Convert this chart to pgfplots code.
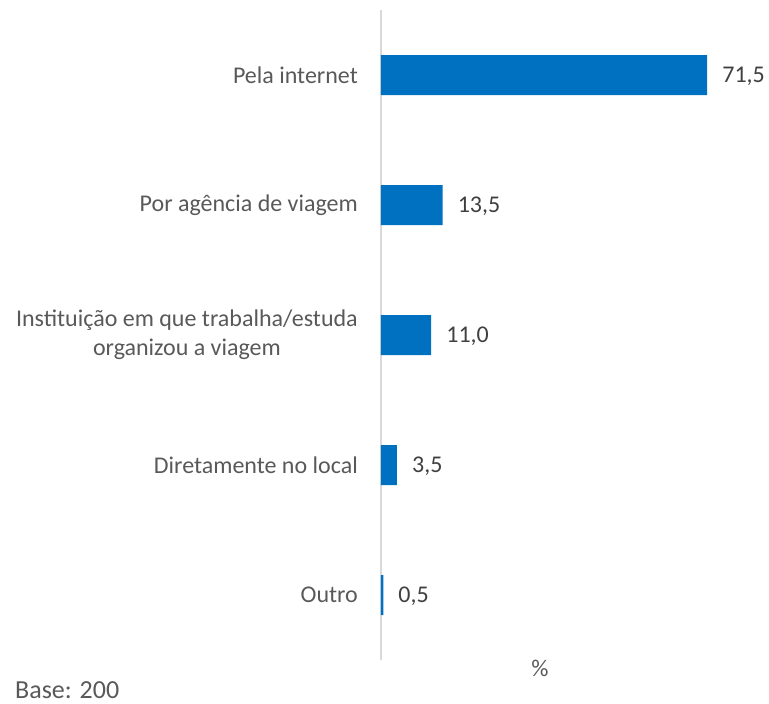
\documentclass[border=0pt]{standalone}
\usepackage{fontspec}
\setmainfont{Carlito}
\usepackage{pgfplots}
\pgfplotsset{compat=1.18}
\definecolor{barblue}{HTML}{0070C0}
\definecolor{txt}{HTML}{595959}
\definecolor{valtxt}{HTML}{404040}
\definecolor{axgray}{HTML}{D9D9D9}
\begin{document}
\begin{tikzpicture}[x=1pt,y=1pt]
\path[use as bounding box] (0,0) rectangle (769,704);
\begin{axis}[
  at={(381pt,44pt)}, anchor=south west, scale only axis,
  width=365pt, height=650pt,
  xbar, bar width=40pt,
  xmin=0, xmax=80, ymin=-0.5, ymax=4.5, y dir=reverse,
  ytick={0,1,2,3,4},
  yticklabels={Pela internet, Por agência de viagem, {Instituição em que trabalha/estuda\\organizou a viagem}, Diretamente no local, Outro},
  yticklabel style={align=center, font=\fontsize{24}{29}\selectfont, text=txt, inner sep=0pt, xshift=-23pt},
  axis x line=none, axis y line=left,
  axis line style={-, axgray, line width=1.5pt},
  major tick length=0pt,
  /pgf/number format/assume math mode=true,
  nodes near coords={\pgfmathprintnumber[fixed,fixed zerofill,precision=1,use comma]{\pgfplotspointmeta}},
  nodes near coords style={font=\fontsize{24}{29}\selectfont, text=valtxt, anchor=west, inner sep=0pt, xshift=15pt, yshift=-1.5pt},
  point meta=x,
  clip=false,
]
\addplot[fill=barblue, draw=none] coordinates {(71.5,0) (13.5,1) (11.0,2) (3.5,3) (0.5,4)};
\end{axis}
\node[font=\fontsize{24}{29}\selectfont, text=txt] at (540,36) {\%};
\node[font=\fontsize{26}{31}\selectfont, text=txt, anchor=west, inner sep=0pt] at (15,14) {Base: 200};
\end{tikzpicture}
\end{document}
